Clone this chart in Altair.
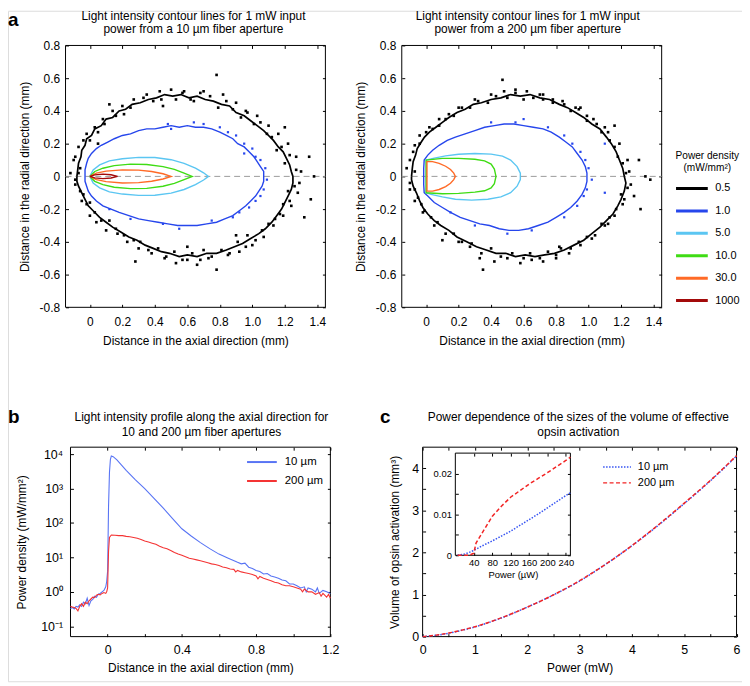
import altair as alt
import pandas as pd

FONT = "Liberation Sans"
W, H = 740, 676
T = 3  # inward tick length

# ---------------- panel a data ----------------
A_LEVELS = ["0.5", "1.0", "5.0", "10.0", "30.0", "1000"]
A_COLORS = ["#000000", "#2646EC", "#5BC6F2", "#3FDC14", "#FF6A26", "#A30A0A"]
A_X_DOMAIN = [-0.15, 1.45]
A_Y_DOMAIN = [-0.8, 0.8]
A_X_TICKS = [0, 0.2, 0.4, 0.6, 0.8, 1.0, 1.2, 1.4]
A_Y_TICKS = [-0.8, -0.6, -0.4, -0.2, 0, 0.2, 0.4, 0.6, 0.8]

a10_black = [(-0.08,0.00),(-0.075,0.04),(-0.07,0.08),(-0.055,0.12),(-0.05,0.16),(-0.03,0.19),(-0.02,0.23),(0.01,0.25),(0.03,0.29),(0.07,0.31),(0.10,0.35),(0.14,0.36),(0.18,0.40),(0.22,0.41),(0.26,0.44),(0.31,0.45),(0.36,0.47),(0.41,0.48),(0.46,0.50),(0.51,0.49),(0.56,0.50),(0.61,0.48),(0.66,0.49),(0.71,0.47),(0.76,0.46),(0.81,0.44),(0.86,0.43),(0.90,0.39),(0.95,0.37),(0.99,0.34),(1.03,0.31),(1.07,0.28),(1.10,0.25),(1.13,0.22),(1.16,0.18),(1.19,0.15),(1.21,0.11),(1.23,0.07),(1.24,0.03),(1.25,0.00),(1.25,-0.04),(1.24,-0.08),(1.22,-0.12),(1.20,-0.16),(1.18,-0.20),(1.15,-0.24),(1.12,-0.28),(1.08,-0.32),(1.04,-0.35),(0.99,-0.38),(0.94,-0.41),(0.89,-0.43),(0.84,-0.45),(0.78,-0.47),(0.72,-0.47),(0.66,-0.49),(0.60,-0.48),(0.55,-0.49),(0.49,-0.47),(0.44,-0.46),(0.39,-0.44),(0.34,-0.42),(0.29,-0.39),(0.24,-0.37),(0.19,-0.34),(0.14,-0.31),(0.10,-0.28),(0.06,-0.25),(0.02,-0.21),(-0.01,-0.18),(-0.03,-0.14),(-0.05,-0.10),(-0.07,-0.06),(-0.08,-0.03),(-0.08,0.00)]
a10_blue = [(-0.03,0.00),(-0.03,0.04),(-0.02,0.08),(-0.01,0.11),(0.01,0.14),(0.04,0.17),(0.07,0.19),(0.11,0.21),(0.15,0.23),(0.20,0.25),(0.25,0.26),(0.30,0.28),(0.35,0.29),(0.40,0.29),(0.45,0.30),(0.50,0.31),(0.55,0.30),(0.60,0.31),(0.65,0.30),(0.70,0.30),(0.75,0.29),(0.80,0.27),(0.84,0.25),(0.88,0.23),(0.91,0.20),(0.95,0.18),(0.98,0.15),(1.01,0.12),(1.03,0.09),(1.05,0.06),(1.07,0.03),(1.07,0.00),(1.07,-0.03),(1.06,-0.06),(1.04,-0.09),(1.02,-0.12),(0.99,-0.15),(0.96,-0.18),(0.92,-0.21),(0.88,-0.24),(0.83,-0.26),(0.78,-0.28),(0.72,-0.29),(0.66,-0.30),(0.60,-0.30),(0.54,-0.30),(0.48,-0.29),(0.42,-0.28),(0.36,-0.27),(0.30,-0.26),(0.24,-0.24),(0.18,-0.22),(0.13,-0.20),(0.08,-0.18),(0.04,-0.15),(0.01,-0.12),(-0.01,-0.09),(-0.02,-0.06),(-0.03,-0.03),(-0.03,0.00)]
a10_cyan = [(0.00,0.00),(0.02,0.04),(0.06,0.07),(0.12,0.095),(0.20,0.108),(0.30,0.116),(0.40,0.115),(0.50,0.102),(0.58,0.080),(0.65,0.050),(0.70,0.022),(0.73,0.00),(0.70,-0.022),(0.65,-0.050),(0.58,-0.080),(0.50,-0.102),(0.40,-0.115),(0.30,-0.116),(0.20,-0.108),(0.12,-0.095),(0.06,-0.07),(0.02,-0.04),(0.00,0.00)]
a10_green = [(0.00,0.00),(0.03,0.03),(0.08,0.05),(0.15,0.066),(0.25,0.075),(0.35,0.073),(0.45,0.060),(0.52,0.043),(0.58,0.02),(0.63,0.00),(0.58,-0.02),(0.52,-0.043),(0.45,-0.060),(0.35,-0.073),(0.25,-0.075),(0.15,-0.066),(0.08,-0.05),(0.03,-0.03),(0.00,0.00)]
a10_orange = [(0.00,0.00),(0.04,0.02),(0.10,0.032),(0.20,0.040),(0.30,0.038),(0.38,0.030),(0.45,0.016),(0.50,0.00),(0.45,-0.016),(0.38,-0.030),(0.30,-0.038),(0.20,-0.040),(0.10,-0.032),(0.04,-0.02),(0.00,0.00)]
a10_red = [(0.00,0.00),(0.03,0.009),(0.08,0.014),(0.13,0.010),(0.17,0.00),(0.13,-0.010),(0.08,-0.014),(0.03,-0.009),(0.00,0.00)]

a200_black = [(-0.09,0.00),(-0.085,0.05),(-0.08,0.09),(-0.065,0.13),(-0.055,0.17),(-0.03,0.21),(-0.01,0.24),(0.02,0.27),(0.06,0.30),(0.10,0.33),(0.14,0.36),(0.19,0.39),(0.24,0.41),(0.29,0.44),(0.34,0.45),(0.40,0.47),(0.46,0.48),(0.52,0.50),(0.58,0.49),(0.64,0.50),(0.70,0.48),(0.76,0.47),(0.82,0.44),(0.87,0.42),(0.92,0.39),(0.97,0.36),(1.02,0.32),(1.07,0.29),(1.11,0.24),(1.14,0.20),(1.17,0.15),(1.19,0.10),(1.21,0.05),(1.22,0.00),(1.23,-0.04),(1.22,-0.09),(1.20,-0.14),(1.18,-0.18),(1.15,-0.23),(1.11,-0.27),(1.07,-0.31),(1.02,-0.35),(0.97,-0.39),(0.91,-0.42),(0.85,-0.45),(0.79,-0.47),(0.73,-0.48),(0.67,-0.49),(0.61,-0.48),(0.55,-0.49),(0.49,-0.47),(0.43,-0.47),(0.37,-0.45),(0.31,-0.43),(0.25,-0.40),(0.19,-0.37),(0.14,-0.33),(0.09,-0.30),(0.05,-0.27),(0.01,-0.23),(-0.02,-0.19),(-0.04,-0.15),(-0.06,-0.10),(-0.08,-0.06),(-0.09,-0.02),(-0.09,0.00)]
a200_blue = [(-0.015,0.00),(-0.015,0.05),(-0.012,0.10),(0.01,0.13),(0.04,0.16),(0.08,0.19),(0.13,0.22),(0.18,0.24),(0.24,0.26),(0.30,0.28),(0.36,0.30),(0.42,0.31),(0.48,0.32),(0.54,0.32),(0.60,0.31),(0.66,0.30),(0.72,0.29),(0.77,0.27),(0.82,0.24),(0.86,0.21),(0.90,0.18),(0.93,0.14),(0.96,0.10),(0.98,0.06),(0.99,0.02),(0.99,0.00),(0.99,-0.03),(0.98,-0.07),(0.96,-0.11),(0.93,-0.15),(0.89,-0.19),(0.85,-0.22),(0.80,-0.25),(0.75,-0.28),(0.69,-0.30),(0.63,-0.32),(0.57,-0.33),(0.51,-0.33),(0.45,-0.32),(0.39,-0.30),(0.33,-0.29),(0.27,-0.27),(0.21,-0.25),(0.15,-0.22),(0.10,-0.19),(0.05,-0.16),(0.01,-0.12),(-0.012,-0.10),(-0.015,-0.05),(-0.015,0.00)]
a200_cyan = [(0.00,0.00),(0.00,0.10),(0.05,0.112),(0.12,0.125),(0.20,0.135),(0.30,0.140),(0.40,0.136),(0.47,0.124),(0.52,0.100),(0.56,0.060),(0.58,0.020),(0.58,0.00),(0.58,-0.02),(0.56,-0.06),(0.52,-0.10),(0.46,-0.125),(0.38,-0.140),(0.28,-0.145),(0.18,-0.140),(0.10,-0.125),(0.03,-0.110),(0.00,-0.10),(0.00,0.00)]
a200_green = [(0.00,0.00),(0.00,0.10),(0.10,0.110),(0.20,0.110),(0.30,0.105),(0.36,0.095),(0.40,0.075),(0.42,0.045),(0.43,0.00),(0.42,-0.045),(0.40,-0.07),(0.36,-0.088),(0.30,-0.096),(0.20,-0.104),(0.10,-0.106),(0.00,-0.10),(0.00,0.00)]
a200_orange = [(0.005,0.00),(0.005,0.09),(0.04,0.09),(0.08,0.08),(0.12,0.062),(0.15,0.042),(0.17,0.02),(0.18,0.00),(0.17,-0.02),(0.15,-0.042),(0.12,-0.062),(0.08,-0.08),(0.04,-0.09),(0.005,-0.09),(0.005,0.00)]

a10_black_dots = [(-0.12,0.02),(-0.10,0.10),(-0.09,-0.05),(-0.07,0.18),(-0.05,-0.15),(-0.02,0.26),(0.00,-0.24),(0.03,0.30),(0.04,-0.28),(0.08,0.35),(0.10,-0.33),(0.14,0.40),(0.17,-0.35),(0.20,0.43),(0.23,-0.40),(0.27,0.47),(0.30,-0.44),(0.35,0.50),(0.38,-0.47),(0.43,0.52),(0.46,-0.50),(0.50,0.53),(0.53,-0.53),(0.58,0.52),(0.60,-0.51),(0.62,0.47),(0.66,-0.54),(0.70,0.52),(0.73,-0.50),(0.78,0.62),(0.78,-0.57),(0.82,0.50),(0.85,-0.48),(0.90,0.45),(0.92,-0.46),(0.96,0.40),(1.00,-0.42),(1.03,0.37),(1.07,-0.37),(1.10,0.31),(1.13,-0.30),(1.16,0.26),(1.19,-0.24),(1.22,0.20),(1.24,-0.18),(1.27,0.12),(1.28,-0.10),(1.30,0.03),(1.29,-0.04),(1.35,0.12),(1.36,-0.14),(1.38,0.00),(0.28,-0.52),(0.12,0.44),(0.90,-0.36),(0.45,0.43),(0.60,-0.43),(1.20,0.30),(1.32,-0.25),(0.05,0.20),
                  (-0.06,0.05),(-0.09,0.12),(-0.04,0.22),(0.00,0.22),(0.05,0.27),(0.09,0.32),(0.16,0.37),(0.21,0.38),(0.25,0.42),(0.33,0.48),(0.39,0.46),(0.44,0.47),(0.53,0.47),(0.57,0.51),(0.64,0.46),(0.68,0.51),(0.74,0.49),(0.79,0.42),(0.84,0.46),(0.88,0.41),(0.93,0.36),(0.97,0.39),(1.01,0.32),(1.05,0.33),(1.09,0.26),(1.12,0.24),(1.15,0.16),(1.18,0.18),(1.20,0.08),(1.23,0.13),(1.27,0.04),(1.26,-0.06),(1.22,-0.09),(1.23,-0.15),(1.19,-0.17),(1.17,-0.23),(1.14,-0.26),(1.10,-0.29),(1.06,-0.33),(1.02,-0.39),(0.97,-0.36),(0.96,-0.43),(0.91,-0.40),(0.86,-0.47),(0.81,-0.45),(0.75,-0.49),(0.70,-0.45),(0.68,-0.51),(0.63,-0.47),(0.57,-0.51),(0.52,-0.46),(0.47,-0.49),(0.42,-0.44),(0.36,-0.45),(0.31,-0.40),(0.27,-0.39),(0.21,-0.36),(0.16,-0.32),(0.12,-0.27),(0.07,-0.27),(0.03,-0.22),(0.00,-0.16),(-0.02,-0.17),(-0.04,-0.11),(-0.06,-0.09),(-0.09,-0.02),(-0.07,0.02)]
a10_blue_dots = [(0.70,0.32),(0.80,0.30),(0.85,0.27),(0.90,0.25),(0.95,0.20),(1.00,0.17),(1.02,0.12),(1.05,0.10),(1.08,0.05),(1.09,-0.02),(1.07,-0.08),(1.05,-0.12),(1.02,-0.15),(0.98,-0.19),(0.92,-0.22),(0.88,-0.25),(0.75,-0.27),(0.55,-0.32),(0.45,-0.29),(0.25,-0.26),(0.48,0.32),(0.64,0.33),(0.50,0.29),(0.12,-0.20),(0.95,0.14)]
a200_black_dots = [(-0.12,0.05),(-0.10,-0.08),(-0.08,0.15),(-0.07,-0.15),(-0.04,0.25),(-0.02,-0.22),(0.02,0.30),(0.05,-0.30),(0.08,0.35),(0.10,-0.39),(0.14,0.38),(0.20,-0.40),(0.20,0.42),(0.27,-0.43),(0.30,0.47),(0.33,-0.50),(0.40,0.50),(0.42,-0.52),(0.48,0.52),(0.50,-0.50),(0.55,0.53),(0.58,-0.53),(0.62,0.52),(0.65,-0.51),(0.70,0.50),(0.72,-0.52),(0.78,0.47),(0.80,-0.50),(0.85,0.44),(0.88,-0.47),(0.92,0.42),(0.95,-0.42),(0.99,0.37),(1.02,-0.38),(1.05,0.32),(1.10,-0.30),(1.12,0.27),(1.16,-0.24),(1.19,0.20),(1.22,-0.14),(1.24,0.10),(1.26,-0.05),(1.25,0.03),(1.28,-0.12),(1.31,0.10),(1.35,0.00),(1.38,-0.02),(0.47,0.59),(0.35,-0.57),(0.72,0.47),(0.95,0.42),(1.16,0.31),(0.82,-0.43),(1.32,-0.20),
                   (-0.07,0.03),(-0.10,0.10),(-0.07,0.19),(-0.04,0.20),(0.00,0.27),(0.04,0.29),(0.08,0.31),(0.12,0.35),(0.17,0.37),(0.22,0.42),(0.27,0.42),(0.32,0.46),(0.38,0.45),(0.43,0.49),(0.50,0.48),(0.55,0.51),(0.60,0.47),(0.66,0.48),(0.72,0.50),(0.78,0.45),(0.84,0.46),(0.89,0.40),(0.94,0.41),(0.99,0.34),(1.03,0.35),(1.08,0.27),(1.10,0.30),(1.13,0.22),(1.16,0.18),(1.18,0.12),(1.21,0.08),(1.23,0.02),(1.24,-0.07),(1.20,-0.11),(1.21,-0.17),(1.17,-0.20),(1.13,-0.25),(1.12,-0.29),(1.08,-0.29),(1.04,-0.36),(0.99,-0.37),(0.94,-0.40),(0.89,-0.44),(0.83,-0.44),(0.80,-0.48),(0.75,-0.46),(0.70,-0.50),(0.64,-0.47),(0.60,-0.50),(0.53,-0.47),(0.46,-0.49),(0.40,-0.44),(0.34,-0.47),(0.28,-0.41),(0.22,-0.40),(0.17,-0.35),(0.12,-0.35),(0.07,-0.28),(0.03,-0.25),(-0.01,-0.21),(-0.03,-0.17),(-0.05,-0.13),(-0.07,-0.08),(-0.10,-0.04)]
a200_blue_dots = [(0.55,0.33),(0.60,0.35),(0.75,0.30),(0.85,0.25),(0.90,0.20),(0.95,0.15),(0.98,0.10),(1.00,0.05),(1.02,-0.02),(0.99,-0.08),(0.97,-0.12),(0.93,-0.18),(0.85,-0.25),(0.65,-0.33),(0.50,-0.35),(0.30,-0.30),(1.10,0.20),(1.10,-0.10),(0.40,0.33),(0.15,-0.22)]

# ---------------- panel b data ----------------
B_SERIES = ["10 µm", "200 µm"]
B_COLORS = ["#5874F4", "#F43434"]
B_X_DOMAIN = [-0.2, 1.2]
B_Y_DOMAIN = [0.05, 16000]
B_X_TICKS = [0, 0.2, 0.4, 0.6, 0.8, 1.0, 1.2]
B_Y_TICKS = [0.1, 1, 10, 100, 1000, 10000]
b_blue = [(-0.2,0.33),(-0.19,0.35),(-0.18,0.32),(-0.17,0.38),(-0.16,0.36),(-0.15,0.42),(-0.14,0.38),(-0.13,0.5),(-0.12,0.45),(-0.11,0.65),(-0.10,0.4),(-0.09,0.55),(-0.08,0.6),(-0.07,0.75),(-0.06,0.7),(-0.05,0.85),(-0.04,0.9),(-0.03,1.0),(-0.02,1.1),(-0.01,1.4),(-0.005,2.0),(0.0,4.0),(0.005,300),(0.01,3000),(0.015,7000),(0.02,8900),(0.03,8500),(0.05,6800),(0.075,4800),(0.1,3400),(0.15,1800),(0.2,1000),(0.25,520),(0.3,270),(0.35,135),(0.4,68),(0.45,42),(0.5,27),(0.55,18),(0.6,12.5),(0.65,9.5),(0.7,7.2),(0.72,6.5),(0.74,6.8),(0.76,5.2),(0.78,4.8),(0.8,4.2),(0.82,3.9),(0.84,3.3),(0.86,3.4),(0.88,2.9),(0.9,2.7),(0.92,2.5),(0.94,2.2),(0.96,2.1),(0.98,1.7),(1.0,1.7),(1.02,1.5),(1.04,1.3),(1.06,1.4),(1.07,1.0),(1.08,1.3),(1.1,1.2),(1.12,1.0),(1.13,1.3),(1.14,0.9),(1.16,1.1),(1.18,1.0),(1.2,0.9)]
b_red = [(-0.2,0.38),(-0.19,0.36),(-0.18,0.35),(-0.17,0.33),(-0.16,0.28),(-0.15,0.38),(-0.14,0.45),(-0.13,0.38),(-0.12,0.5),(-0.11,0.45),(-0.10,0.55),(-0.09,0.62),(-0.08,0.7),(-0.07,0.68),(-0.06,0.8),(-0.05,0.85),(-0.04,0.82),(-0.03,0.9),(-0.02,0.95),(-0.01,0.9),(-0.005,1.0),(0.0,1.3),(0.005,15),(0.01,38),(0.02,45),(0.04,44),(0.06,43),(0.08,43),(0.1,41),(0.12,40),(0.14,38),(0.16,36),(0.18,33),(0.2,30),(0.22,28),(0.24,26),(0.26,24),(0.28,21),(0.3,19),(0.32,18),(0.34,16),(0.36,14),(0.38,12.5),(0.4,11.5),(0.42,10.5),(0.44,9.5),(0.46,9.0),(0.48,8.5),(0.5,8.0),(0.52,7.5),(0.54,7.0),(0.56,6.5),(0.58,6.2),(0.6,5.8),(0.62,5.3),(0.64,5.0),(0.66,4.6),(0.68,4.5),(0.69,3.8),(0.7,4.2),(0.72,3.8),(0.74,3.6),(0.76,3.4),(0.78,3.2),(0.8,2.9),(0.81,2.4),(0.82,2.8),(0.84,2.5),(0.86,2.3),(0.88,2.1),(0.9,1.9),(0.92,1.8),(0.94,1.6),(0.96,1.5),(0.98,1.5),(1.0,1.4),(1.02,1.3),(1.04,1.2),(1.05,1.0),(1.06,1.2),(1.08,1.0),(1.1,1.0),(1.12,0.85),(1.14,0.95),(1.15,0.75),(1.16,0.9),(1.18,0.7),(1.19,0.85),(1.2,0.65)]

# ---------------- panel c data ----------------
C_SERIES = ["10 µm", "200 µm"]
C_COLORS = ["#3553F2", "#F22424"]
C_DASHES = [[1.5, 1.5], [4, 2.5]]
C_X_DOMAIN = [0, 6]
C_Y_DOMAIN = [0, 4.5]
C_X_TICKS = [0, 0.5, 1, 1.5, 2, 2.5, 3, 3.5, 4, 4.5, 5, 5.5, 6]
C_Y_TICKS = [0, 0.5, 1, 1.5, 2, 2.5, 3, 3.5, 4]
c_power_mw = [0, 0.25, 0.5, 0.75, 1, 1.5, 2, 2.5, 3, 3.5, 4, 4.5, 5, 5.5, 6]
c_vol_10 = [0, 0.03, 0.08, 0.15, 0.23, 0.44, 0.70, 0.99, 1.32, 1.72, 2.16, 2.64, 3.16, 3.70, 4.29]
c_vol_200 = [0, 0.035, 0.085, 0.155, 0.235, 0.445, 0.70, 0.99, 1.33, 1.72, 2.16, 2.65, 3.17, 3.71, 4.30]

I_X_DOMAIN = [0, 250]
I_Y_DOMAIN = [0, 0.025]
I_X_TICKS = [40, 80, 120, 160, 200, 240]
I_Y_TICKS = [0, 0.005, 0.01, 0.015, 0.02]
i_power_uw = [5, 10, 20, 30, 40, 45, 60, 80, 100, 120, 140, 160, 180, 200, 220, 240, 250]
i_vol_10 = [0, 0.0001, 0.0003, 0.0007, 0.0012, 0.0015, 0.0024, 0.0035, 0.0047, 0.0059, 0.0073, 0.0087, 0.0101, 0.0116, 0.0131, 0.0146, 0.0153]
i_vol_200 = [0, 0, 0, 0, 0.0005, 0.003, 0.0058, 0.0095, 0.012, 0.0142, 0.0158, 0.0174, 0.0188, 0.0202, 0.0217, 0.0232, 0.024]

# ---------------- layout (pixel positions of plot boxes) ----------------
A1_XR = [58, 320]
A2_XR = [397, 659]
A_YR = [299, 35]
B_XR = [63, 325]
B_YR = [631, 440]
C_XR = [418, 734.5]
C_YR = [631, 440]
I_XR = [451, 567]
I_YR = [549, 446]


def contour_df(items):
    rows = []
    for lvl, pts in items:
        for i, (x, y) in enumerate(pts):
            rows.append({"x": x, "y": y, "level": lvl, "ord": i})
    return pd.DataFrame(rows)


def pts_df(pts):
    return pd.DataFrame(pts, columns=["x", "y"])


def pairs_series_df(items):
    rows = []
    for name, pts in items:
        for x, v in pts:
            rows.append({"x": x, "v": v, "series": name})
    return pd.DataFrame(rows)


def lists_series_df(xs, items):
    rows = []
    for name, vals in items:
        for x, v in zip(xs, vals):
            rows.append({"x": x, "v": v, "series": name})
    return pd.DataFrame(rows)


def axis(**kw):
    base = dict(domain=False, grid=False, tickSize=T, tickColor="black", tickWidth=1,
                labelFlush=False, labelOverlap=False, labelColor="black",
                titleColor="black", titleFontWeight="normal", labelFont=FONT, titleFont=FONT)
    base.update(kw)
    return alt.Axis(**base)


def ax_left(L, values, expr, title, lfs=12, tfs=12, lpad=6, tpad=8):
    kw = dict(orient="left", offset=-(L + T), values=values, labelFontSize=lfs,
              labelPadding=lpad, title=title, titleFontSize=tfs, titlePadding=tpad)
    if expr:
        kw["labelExpr"] = expr
    return axis(**kw)


def ax_bottom(B, values, expr, title, lfs=12, tfs=12, lpad=9, tpad=8):
    kw = dict(orient="bottom", offset=B - T - H, values=values, labelFontSize=lfs,
              labelPadding=lpad, title=title, titleFontSize=tfs, titlePadding=tpad)
    if expr:
        kw["labelExpr"] = expr
    return axis(**kw)


def ax_top(top, values):
    return axis(orient="top", offset=-(top + T), values=values, labels=False, title=None)


def ax_right(R, values):
    return axis(orient="right", offset=R - T - W, values=values, labels=False, title=None)


def frame_layers(xd, yd, sx, sy, xa, ya, xm, ym):
    df = pd.DataFrame({"x0": [xd[0]], "x1": [xd[1]], "y0": [yd[0]], "y1": [yd[1]]})
    frame = alt.Chart(df).mark_rect(fillOpacity=0, stroke="black", strokeWidth=1).encode(
        x=alt.X("x0:Q", scale=sx, axis=xa), x2=alt.X2("x1"),
        y=alt.Y("y0:Q", scale=sy, axis=ya), y2=alt.Y2("y1"))
    mirror = alt.Chart(df).mark_rect(fillOpacity=0, strokeOpacity=0).encode(
        x=alt.X("x0:Q", scale=sx, axis=xm), x2=alt.X2("x1"),
        y=alt.Y("y0:Q", scale=sy, axis=ym), y2=alt.Y2("y1"))
    return frame, mirror


A_X_EXPR = "datum.value == 0 ? '0' : format(datum.value, '.1f')"
A_Y_EXPR = "datum.value == 0 ? '0' : (datum.value < 0 ? '-' : '') + format(abs(datum.value), '.1f')"
B_X_EXPR = "(datum.value == 0.4 || datum.value == 0.8 || datum.value == 1.2) ? format(datum.value, '.1f') : (datum.value == 0 ? '0' : '')"
B_Y_EXPR = ("datum.value >= 5000 ? '10⁴' : datum.value >= 500 ? '10³' : datum.value >= 50 ? '10²' : "
            "datum.value >= 5 ? '10¹' : datum.value >= 0.5 ? '10⁰' : '10⁻¹'")
INT_EXPR = "datum.value % 1 == 0 ? format(datum.value, 'd') : ''"
I_Y_EXPR = "datum.value == 0 ? '0' : datum.value == 0.01 ? '0.01' : datum.value == 0.02 ? '0.02' : ''"

legend_a = alt.Legend(orient="none", legendX=672, legendY=141, title=["Power density", "(mW/mm²)"],
                      titleFontSize=10.2, titleFontWeight="normal", titleAlign="center",
                      titleAnchor="middle", titleLineHeight=13, titlePadding=5, titleLimit=200,
                      symbolType="stroke", symbolSize=1024, symbolStrokeWidth=3,
                      labelFontSize=11, labelOffset=6, clipHeight=20, rowPadding=2.6, padding=0)


def panel_a(xr, contours, black_dots, blue_dots, legend):
    sx = alt.Scale(domain=A_X_DOMAIN, range=xr, nice=False, zero=False)
    sy = alt.Scale(domain=A_Y_DOMAIN, range=A_YR, nice=False, zero=False)
    frame, mirror = frame_layers(
        A_X_DOMAIN, A_Y_DOMAIN, sx, sy,
        ax_bottom(A_YR[0], A_X_TICKS, A_X_EXPR, "Distance in the axial direction (mm)"),
        ax_left(xr[0], A_Y_TICKS, A_Y_EXPR, "Distance in the radial direction (mm)"),
        ax_top(A_YR[1], A_X_TICKS), ax_right(xr[1], A_Y_TICKS))
    zdf = pd.DataFrame({"x0": [A_X_DOMAIN[0]], "x1": [A_X_DOMAIN[1]], "y": [0]})
    zero = alt.Chart(zdf).mark_rule(color="#9a9a9a", strokeDash=[6, 4], strokeWidth=1).encode(
        x=alt.X("x0:Q", scale=sx, axis=None), x2=alt.X2("x1"),
        y=alt.Y("y:Q", scale=sy, axis=None))
    lines = alt.Chart(contour_df(contours)).mark_line(interpolate="linear").encode(
        x=alt.X("x:Q", scale=sx, axis=None),
        y=alt.Y("y:Q", scale=sy, axis=None),
        color=alt.Color("level:N", scale=alt.Scale(domain=A_LEVELS, range=A_COLORS), legend=legend),
        order=alt.Order("ord:Q"),
        strokeWidth=alt.condition("datum.level == '0.5'", alt.value(1.7), alt.value(1.4)))
    bdots = alt.Chart(pts_df(black_dots)).mark_square(size=7, color="black", opacity=1).encode(
        x=alt.X("x:Q", scale=sx, axis=None), y=alt.Y("y:Q", scale=sy, axis=None))
    udots = alt.Chart(pts_df(blue_dots)).mark_square(size=5, color=A_COLORS[1], opacity=1).encode(
        x=alt.X("x:Q", scale=sx, axis=None), y=alt.Y("y:Q", scale=sy, axis=None))
    return alt.layer(frame, mirror, zero, bdots, udots, lines).resolve_axis(x="independent", y="independent")


panel_a1 = panel_a(A1_XR,
                   [("0.5", a10_black), ("1.0", a10_blue), ("5.0", a10_cyan), ("10.0", a10_green),
                    ("30.0", a10_orange), ("1000", a10_red)],
                   a10_black_dots, a10_blue_dots, None)
panel_a2 = panel_a(A2_XR,
                   [("0.5", a200_black), ("1.0", a200_blue), ("5.0", a200_cyan), ("10.0", a200_green),
                    ("30.0", a200_orange)],
                   a200_black_dots, a200_blue_dots, legend_a)

# ---------------- panel b ----------------
sxb = alt.Scale(domain=B_X_DOMAIN, range=B_XR, nice=False, zero=False)
syb = alt.Scale(type="log", domain=B_Y_DOMAIN, range=B_YR, nice=False)
fb, mb = frame_layers(B_X_DOMAIN, B_Y_DOMAIN, sxb, syb,
                      ax_bottom(B_YR[0], B_X_TICKS, B_X_EXPR, "Distance in the axial direction (mm)",
                                lfs=12.5, lpad=7, tpad=7),
                      ax_left(B_XR[0], B_Y_TICKS, B_Y_EXPR, "Power density (mW/mm²)",
                              lfs=12.5, lpad=8, tpad=12),
                      ax_top(B_YR[1], B_X_TICKS), ax_right(B_XR[1], B_Y_TICKS))
legend_b = alt.Legend(orient="none", legendX=240, legendY=447, title=None, symbolType="stroke",
                      symbolSize=900, symbolStrokeWidth=2, labelFontSize=11.5, labelOffset=7,
                      clipHeight=16, rowPadding=3, padding=0)
lines_b = alt.Chart(pairs_series_df([(B_SERIES[0], b_blue), (B_SERIES[1], b_red)])).mark_line(
    strokeWidth=1.1).encode(
    x=alt.X("x:Q", scale=sxb, axis=None),
    y=alt.Y("v:Q", scale=syb, axis=None),
    color=alt.Color("series:N", scale=alt.Scale(domain=B_SERIES, range=B_COLORS), legend=legend_b))
panel_b = alt.layer(fb, mb, lines_b).resolve_axis(x="independent", y="independent")

# ---------------- panel c ----------------
sxc = alt.Scale(domain=C_X_DOMAIN, range=C_XR, nice=False, zero=False)
syc = alt.Scale(domain=C_Y_DOMAIN, range=C_YR, nice=False, zero=False)
fc, mc = frame_layers(C_X_DOMAIN, C_Y_DOMAIN, sxc, syc,
                      ax_bottom(C_YR[0], C_X_TICKS, INT_EXPR, "Power (mW)", lfs=12.5, lpad=7, tpad=7),
                      ax_left(C_XR[0], C_Y_TICKS, INT_EXPR, "Volume of opsin activation (mm³)",
                              lfs=12.5, lpad=4, tpad=10),
                      ax_top(C_YR[1], C_X_TICKS), ax_right(C_XR[1], C_Y_TICKS))
legend_c = alt.Legend(orient="none", legendX=599, legendY=453, title=None, symbolType="stroke",
                      symbolSize=784, symbolStrokeWidth=1.5, labelFontSize=11, labelOffset=6,
                      clipHeight=14, rowPadding=2, padding=0)
lines_c = alt.Chart(lists_series_df(c_power_mw, [(C_SERIES[0], c_vol_10), (C_SERIES[1], c_vol_200)])).mark_line(
    strokeWidth=1.5, interpolate="monotone").encode(
    x=alt.X("x:Q", scale=sxc, axis=None),
    y=alt.Y("v:Q", scale=syc, axis=None),
    color=alt.Color("series:N", scale=alt.Scale(domain=C_SERIES, range=C_COLORS), legend=legend_c),
    strokeDash=alt.StrokeDash("series:N", scale=alt.Scale(domain=C_SERIES, range=C_DASHES), legend=legend_c))
panel_c = alt.layer(fc, mc, lines_c).resolve_axis(x="independent", y="independent")

# ---------------- inset ----------------
sxi = alt.Scale(domain=I_X_DOMAIN, range=I_XR, nice=False, zero=False)
syi = alt.Scale(domain=I_Y_DOMAIN, range=I_YR, nice=False, zero=False)
fi, mi = frame_layers(I_X_DOMAIN, I_Y_DOMAIN, sxi, syi,
                      ax_bottom(I_YR[0], I_X_TICKS, None, "Power (µW)", lfs=9.5, tfs=9.5, lpad=2, tpad=3),
                      ax_left(I_XR[0], I_Y_TICKS, I_Y_EXPR, None, lfs=9.5, tfs=9.5, lpad=4, tpad=3),
                      ax_top(I_YR[1], I_X_TICKS), ax_right(I_XR[1], I_Y_TICKS))
lines_i = alt.Chart(lists_series_df(i_power_uw, [(C_SERIES[0], i_vol_10), (C_SERIES[1], i_vol_200)])).mark_line(
    strokeWidth=1.5).encode(
    x=alt.X("x:Q", scale=sxi, axis=None),
    y=alt.Y("v:Q", scale=syi, axis=None),
    color=alt.Color("series:N", scale=alt.Scale(domain=C_SERIES, range=C_COLORS), legend=None),
    strokeDash=alt.StrokeDash("series:N", scale=alt.Scale(domain=C_SERIES, range=C_DASHES), legend=None))
panel_i = alt.layer(fi, mi, lines_i).resolve_axis(x="independent", y="independent")

# ---------------- texts ----------------
one = pd.DataFrame({"k": [0]})


def txt(lines, x, y, size=12, weight="normal", align="center", baseline="top", lh=13):
    return alt.Chart(one).mark_text(text=lines, fontSize=size, fontWeight=weight, align=align,
                                    baseline=baseline, lineHeight=lh, font=FONT, color="black").encode(
        x=alt.value(x), y=alt.value(y))


texts = [
    txt(["Light intensity contour lines for 1 mW input", "power from a 10 µm fiber aperture"], 187, 0),
    txt(["Light intensity contour lines for 1 mW input", "power from a 200 µm fiber aperture"], 524, 0),
    txt(["Light intensity profile along the axial direction for", "10 and 200 µm fiber apertures"], 195, 405, lh=14.5),
    txt(["Power dependence of the sizes of the volume of effective", "opsin activation"], 575, 405, lh=14.5),
    txt("a", 0, 0, size=19, weight="bold", align="left", baseline="top"),
    txt("b", 0, 416, size=19, weight="bold", align="left", baseline="alphabetic"),
    txt("c", 375, 416, size=19, weight="bold", align="left", baseline="alphabetic"),
]

chart = alt.layer(panel_a1, panel_a2, panel_b, panel_c, panel_i, *texts).resolve_scale(
    x="independent", y="independent", color="independent", strokeDash="independent"
).resolve_axis(x="independent", y="independent").properties(
    width=W, height=H, autosize="none", padding=0
).configure_view(stroke=None).configure(font=FONT).configure_legend(
    labelFont=FONT, titleFont=FONT, labelColor="black", titleColor="black")

chart.save("out.html", embed_options={"renderer": "svg", "actions": False})
